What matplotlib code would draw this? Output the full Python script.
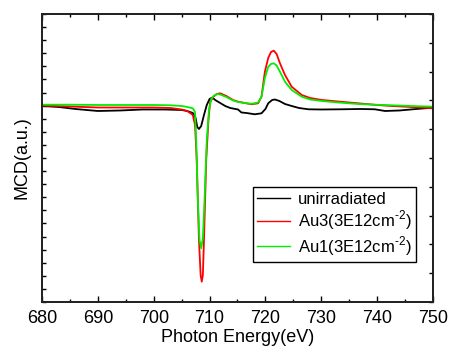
import numpy as np
import matplotlib
matplotlib.use('Agg')
import matplotlib.pyplot as plt

plt.rcParams['font.family'] = ['Liberation Sans', 'DejaVu Sans']
plt.rcParams['mathtext.fontset'] = 'custom'
plt.rcParams['mathtext.rm'] = 'Liberation Sans'

# MCD in arbitrary units (baseline = 0)
black_E = [680, 683, 686, 690, 694, 698, 702, 705, 706, 707, 707.5, 707.8, 708.1, 708.5, 709, 709.5,
           710, 710.5, 711, 711.9, 712.8, 713.7, 715.1, 715.7, 716.6, 718.1, 719.3, 720, 720.5, 721.2,
           721.7, 722.5, 723.5, 724.7, 726, 727.7, 730, 733.6, 737, 739.6, 741.4, 744, 747, 750]
black_y = [-0.01, -0.02, -0.04, -0.06, -0.055, -0.045, -0.045, -0.05, -0.06, -0.08, -0.13, -0.22, -0.24,
           -0.21, -0.10, 0.0, 0.06, 0.075, 0.05, 0.02, -0.01, -0.03, -0.045, -0.075, -0.08, -0.093, -0.083,
           -0.04, 0.017, 0.05, 0.055, 0.04, 0.01, -0.01, -0.03, -0.043, -0.045, -0.043, -0.04, -0.043,
           -0.06, -0.055, -0.04, -0.027]

red_E = [680, 685, 690, 695, 700, 703, 705, 706, 707, 707.4, 707.7, 708.1, 708.4, 708.6, 708.8, 709.0,
         709.4, 709.8, 710.1, 710.7, 711.3, 711.9, 713, 714.2, 715.1, 716.6, 717.5, 718.7, 719.3, 719.9,
         720.5, 721, 721.5, 722, 722.6, 723.5, 724.7, 726.5, 728, 730.1, 733, 736.6, 740, 742.6, 746, 750]
red_y = [-0.005, -0.015, -0.025, -0.025, -0.025, -0.03, -0.045, -0.06, -0.10, -0.20, -0.55, -1.35, -1.70,
         -1.767, -1.70, -1.35, -0.55, -0.15, 0.03, 0.083, 0.11, 0.117, 0.09, 0.05, 0.033, 0.017, 0.007,
         0.017, 0.083, 0.333, 0.47, 0.53, 0.543, 0.51, 0.417, 0.30, 0.183, 0.10, 0.07, 0.05, 0.035, 0.017,
         0.0, -0.01, -0.02, -0.033]

green_E = [680, 685, 690, 695, 700, 703, 705, 706, 707, 707.4, 707.6, 707.9, 708.2, 708.5, 708.8, 709.1,
           709.5, 709.9, 710.3, 710.8, 711.4, 711.9, 713, 714.2, 715.1, 716.6, 717.5, 718.7, 719.3, 719.9,
           720.5, 721, 721.5, 722, 722.6, 723.5, 724.7, 726.5, 728, 730.1, 733, 736.6, 740, 742.6, 746, 750]
green_y = [0.003, 0.003, 0.0, 0.0, 0.0, -0.003, -0.01, -0.02, -0.033, -0.07, -0.35, -0.95, -1.35, -1.433,
           -1.33, -0.95, -0.35, -0.05, 0.06, 0.095, 0.11, 0.105, 0.08, 0.045, 0.03, 0.017, 0.012, 0.025,
           0.083, 0.27, 0.38, 0.41, 0.417, 0.395, 0.333, 0.233, 0.15, 0.083, 0.055, 0.04, 0.025, 0.01,
           0.002, -0.003, -0.01, -0.017]

fig = plt.figure(figsize=(4.49, 3.55), dpi=100)
ax = fig.add_axes([0.0935, 0.1493, 0.8709, 0.8113])

ax.plot(black_E, black_y, color='black', lw=1.3, label='unirradiated')
ax.plot(red_E, red_y, color='#ff0000', lw=1.3, label='Au3(3E12cm$^{\\text{-2}}$)')
ax.plot(green_E, green_y, color='#00ee00', lw=1.3, label='Au1(3E12cm$^{\\text{-2}}$)')

lo, hi = -1.97, 0.91
ax.set_xlim(680, 750)
ax.set_ylim(lo, hi)
ax.set_xticks(np.arange(680, 751, 10))
ax.set_xticks(np.arange(685, 750, 10), minor=True)
ax.set_yticks(np.linspace(lo, hi, 23))
ax.tick_params(axis='x', which='both', direction='in', top=True, labelsize=13, pad=6)
ax.tick_params(axis='x', which='major', length=4, width=1)
ax.tick_params(axis='x', which='minor', length=2.5, width=1)
ax.tick_params(axis='y', direction='in', length=3, width=1, labelleft=False)

ax2 = ax.twinx()
ax2.set_ylim(lo, hi)
ax2.set_yticks(np.linspace(lo, hi, 11))
ax2.tick_params(axis='y', direction='in', length=3, width=1, labelright=False)

for a in (ax, ax2):
    for s in a.spines.values():
        s.set_linewidth(1.3)
        s.set_color('#222222')

ax.set_xlabel('Photon Energy(eV)', fontsize=13, labelpad=1)
ax.set_ylabel('MCD(a.u.)', fontsize=13, labelpad=8)

leg = ax.legend(loc='lower right', bbox_to_anchor=(0.956, 0.139), borderaxespad=0, fontsize=12,
                fancybox=False, edgecolor='black', framealpha=1, handlelength=2.0, borderpad=0.25,
                labelspacing=0.12, handletextpad=0.45)
leg.get_frame().set_linewidth(1.0)
for line in leg.get_lines():
    line.set_linewidth(1.0)

fig.savefig('out.png', dpi=100)
